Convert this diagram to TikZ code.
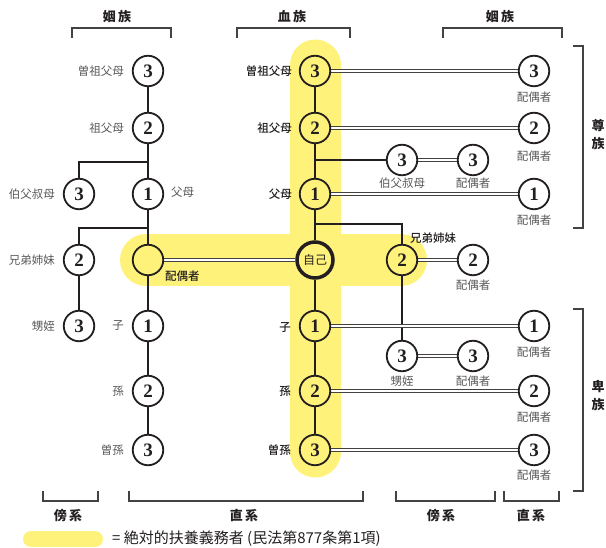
\documentclass[tikz,border=0pt]{standalone}
\usepackage{fontspec}
\setmainfont{Liberation Serif}
\newfontfamily\jp{Noto Sans CJK JP}
\newfontfamily\jpm{Noto Sans CJK JP Medium}
\newfontfamily\numf{Liberation Serif}
\definecolor{hl}{RGB}{255,242,122}
\definecolor{ink}{RGB}{35,31,32}
\definecolor{gtext}{RGB}{90,88,88}
\pgfdeclarelayer{hilite}
\pgfdeclarelayer{edges}
\pgfsetlayers{hilite,edges,main}
\begin{document}
\begin{tikzpicture}[x=1pt,y=-1pt,
  pc/.style={circle,draw=ink,line width=1.8pt,fill=white,minimum size=30.5pt,inner sep=0pt,font=\numf\bfseries\fontsize{19}{19}\selectfont,text=ink},
  hc/.style={pc,fill=hl},
  selfc/.style={hc,line width=3.5pt,minimum size=36pt,font=\jp\fontsize{12}{12}\selectfont},
  lab/.style={font=\jp\fontsize{11.5}{12}\selectfont,text=gtext,inner sep=0pt},
  blab/.style={font=\jpm\fontsize{11.5}{12}\selectfont,text=ink,inner sep=0pt},
  hdr/.style={font=\jp\bfseries\fontsize{13}{18}\selectfont,text=ink,inner sep=0pt,align=center},
  kin/.style={draw=ink,line width=2.7pt},
  mar/.style={draw=ink!85,line width=1pt,double=white,double distance=2.4pt},
  brk/.style={draw=ink!85,line width=1.2pt},
  band/.style={draw=hl,line cap=round},
]
\useasboundingbox (0,0) rectangle (606,548);

% highlight
\begin{pgfonlayer}{hilite}
\draw[band,line width=51pt] (315,65) -- (315,452);
\draw[band,line width=52pt] (146,260) -- (401,260);
\draw[band,line width=16pt] (31,539) -- (95,539);
\end{pgfonlayer}

% column A
\node[pc] (A3) at (79,194) {3};
\node[pc] (A2) at (79,260) {2};
\node[pc] (A3b) at (79,326) {3};
% column B
\node[pc] (B3u) at (148,71) {3};
\node[pc] (B2u) at (148,128) {2};
\node[pc] (B1u) at (148,194) {1};
\node[hc] (Bs) at (148,260) {};
\node[pc] (B1d) at (148,326) {1};
\node[pc] (B2d) at (148,391) {2};
\node[pc] (B3d) at (148,450) {3};
% column C
\node[hc] (C3u) at (315,71) {3};
\node[hc] (C2u) at (315,128) {2};
\node[hc] (C1u) at (315,194) {1};
\node[selfc] (self) at (315,260) {自己};
\node[hc] (C1d) at (315,326) {1};
\node[hc] (C2d) at (315,391) {2};
\node[hc] (C3d) at (315,450) {3};
% column D
\node[pc] (D3u) at (402,160) {3};
\node[hc] (D2) at (402,260) {2};
\node[pc] (D3d) at (402,356) {3};
% column E
\node[pc] (E3u) at (473,160) {3};
\node[pc] (E2) at (473,260) {2};
\node[pc] (E3d) at (473,356) {3};
% column F
\node[pc] (F3u) at (534,71) {3};
\node[pc] (F2u) at (534,128) {2};
\node[pc] (F1u) at (534,194) {1};
\node[pc] (F1d) at (534,326) {1};
\node[pc] (F2d) at (534,391) {2};
\node[pc] (F3d) at (534,450) {3};

\coordinate (jB1) at (148,162);
\coordinate (jB2) at (148,228);
\coordinate (jC) at (315,224);

\begin{pgfonlayer}{edges}
\draw[kin] (B3u) -- (B2u) -- (B1u) -- (Bs) -- (B1d) -- (B2d) -- (B3d);
\draw[kin] (jB1) -| (A3);
\draw[kin] (jB2) -| (A2);
\draw[kin] (A2) -- (A3b);
\draw[kin] (C3u) -- (C2u) -- (C1u) -- (self) -- (C1d) -- (C2d) -- (C3d);
\draw[kin] (D3u) -- (D3u -| C2u);
\draw[kin] (jC) -| (D2);
\draw[kin] (D2) -- (D3d);
\draw[mar] (C3u) -- (F3u);
\draw[mar] (C2u) -- (F2u);
\draw[mar] (C1u) -- (F1u);
\draw[mar] (D3u) -- (E3u);
\draw[mar] (Bs) -- (self);
\draw[mar] (D2) -- (E2);
\draw[mar] (C1d) -- (F1d);
\draw[mar] (D3d) -- (E3d);
\draw[mar] (C2d) -- (F2d);
\draw[mar] (C3d) -- (F3d);
\end{pgfonlayer}

% labels
\node[lab,anchor=east] (lA3) at (55,194) {伯父叔母};
\node[lab,anchor=east] (lA2) at (55,260) {兄弟姉妹};
\node[lab,anchor=east] (lA3b) at (55,326) {甥姪};
\node[lab,anchor=east] (lB3u) at (124,71) {曽祖父母};
\node[lab,anchor=east] (lB2u) at (124,128) {祖父母};
\node[lab,anchor=west] (lB1u) at (171,192) {父母};
\node[blab,anchor=west] (lBs) at (165,276) {配偶者};
\node[lab,anchor=east] (lB1d) at (124,326) {子};
\node[lab,anchor=east] (lB2d) at (124,391) {孫};
\node[lab,anchor=east] (lB3d) at (124,450) {曽孫};
\node[blab,anchor=east] (lC3u) at (292,71) {曽祖父母};
\node[blab,anchor=east] (lC2u) at (292,128) {祖父母};
\node[blab,anchor=east] (lC1u) at (292,194) {父母};
\node[blab,anchor=east] (lC1d) at (291,327) {子};
\node[blab,anchor=east] (lC2d) at (291,391) {孫};
\node[blab,anchor=east] (lC3d) at (291,450) {曽孫};
\node[lab] (lD3u) at (402,183) {伯父叔母};
\node[blab,anchor=west] (lD2) at (410,238) {兄弟姉妹};
\node[lab] (lD3d) at (402,381) {甥姪};
\node[lab] (lE3u) at (473,183) {配偶者};
\node[lab] (lE2) at (473,285) {配偶者};
\node[lab] (lE3d) at (473,381) {配偶者};
\node[lab] (lF3u) at (534,97) {配偶者};
\node[lab] (lF2u) at (534,156) {配偶者};
\node[lab] (lF1u) at (534,220) {配偶者};
\node[lab] (lF1d) at (534,352) {配偶者};
\node[lab] (lF2d) at (534,417) {配偶者};
\node[lab] (lF3d) at (534,475) {配偶者};

% headers and brackets
\node[hdr] (h1) at (117,17) {姻\,族};
\node[hdr] (h2) at (292,17) {血\,族};
\node[hdr] (h3) at (500,17) {姻\,族};
\draw[brk] (72,38) -- (72,28) -- (171,28) -- (171,38);
\draw[brk] (237,38) -- (237,28) -- (350,28) -- (350,38);
\draw[brk] (443,38) -- (443,28) -- (562,28) -- (562,38);

\draw[brk] (573,46) -- (583,46) -- (583,228) -- (573,228);
\draw[brk] (573,309) -- (583,309) -- (583,491) -- (573,491);
\node[hdr] (h4) at (598,135) {尊\\族};
\node[hdr] (h5) at (598,396) {卑\\族};

\draw[brk] (43,491) -- (43,501) -- (98,501) -- (98,491);
\draw[brk] (129,491) -- (129,501) -- (363,501) -- (363,491);
\draw[brk] (396,491) -- (396,501) -- (495,501) -- (495,491);
\draw[brk] (504,491) -- (504,501) -- (559,501) -- (559,491);
\node[hdr] (h6) at (68,516) {傍\,系};
\node[hdr] (h7) at (244,516) {直\,系};
\node[hdr] (h8) at (441,516) {傍\,系};
\node[hdr] (h9) at (531,516) {直\,系};

% legend
\node[font=\jp\fontsize{15}{15}\selectfont,text=ink,anchor=west,inner sep=0pt] (leg) at (112,539) {= 絶対的扶養義務者 (民法第877条第1項)};
\end{tikzpicture}
\end{document}
